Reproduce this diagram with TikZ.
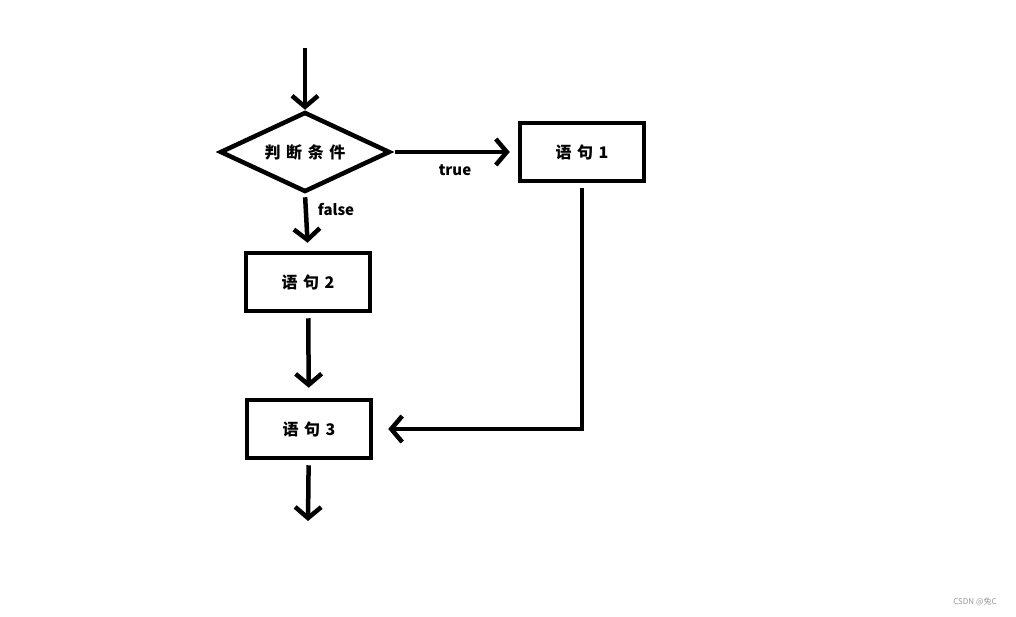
\documentclass[tikz,border=0pt]{standalone}
\usepackage{fontspec}
\setmainfont{Noto Sans CJK SC}
\newfontfamily\spaced{Noto Sans CJK SC}[LetterSpace=35]
\usepackage{tikz}
\usetikzlibrary{shapes.geometric, arrows.meta}
\tikzstyle{decision} = [diamond, draw, line width=4.5pt, text centered, aspect=2, minimum width=170pt, minimum height=80pt, inner sep=0pt, font=\spaced\bfseries\fontsize{16}{19}\selectfont]
\tikzstyle{process} = [rectangle, draw, line width=4.5pt, text centered, minimum width=124pt, minimum height=58pt, font=\spaced\bfseries\fontsize{16}{19}\selectfont]
\tikzstyle{label} = [draw=none, font=\bfseries\fontsize{15}{18}\selectfont]
\tikzstyle{connector} = [draw, line width=4.5pt, -{Straight Barb[length=11pt, width=26pt]}]

\begin{document}
\begin{tikzpicture}[x=1pt, y=-1pt]
        \useasboundingbox[fill=white] (0,0) rectangle (1016,616);
        \coordinate (entry) at (305,48);
        \node [decision] at (305,152) (decision) {判断条件};
        \node [process] at (582,152) (stmt1) {语句1};
        \node [process] at (308,282) (stmt2) {语句2};
        \node [process] at (309,429) (stmt3) {语句3};
        \coordinate (exit) at (308,521);

        \node[label] at (455,170) (true) {true};
        \node[label] at (336,210) (false) {false};
        \node[draw=none, text=gray!80, font=\fontsize{8}{10}\selectfont] at (975,602) (mark) {CSDN @兔C};

        \path [connector] (entry) -- (decision);
        \path [connector, shorten <=3pt, shorten >=8pt] (decision) -- (stmt1);
        \path [connector, shorten <=3pt, shorten >=8pt] (decision.south) -- (stmt2.north);
        \path [connector, shorten <=5pt, shorten >=10pt] (stmt2) -- (stmt3);
        \path [connector, shorten <=5pt, shorten >=15pt] (stmt1) |- (stmt3);
        \path [connector, shorten <=5pt] (stmt3) -- (exit);
    \end{tikzpicture}
\end{document}
